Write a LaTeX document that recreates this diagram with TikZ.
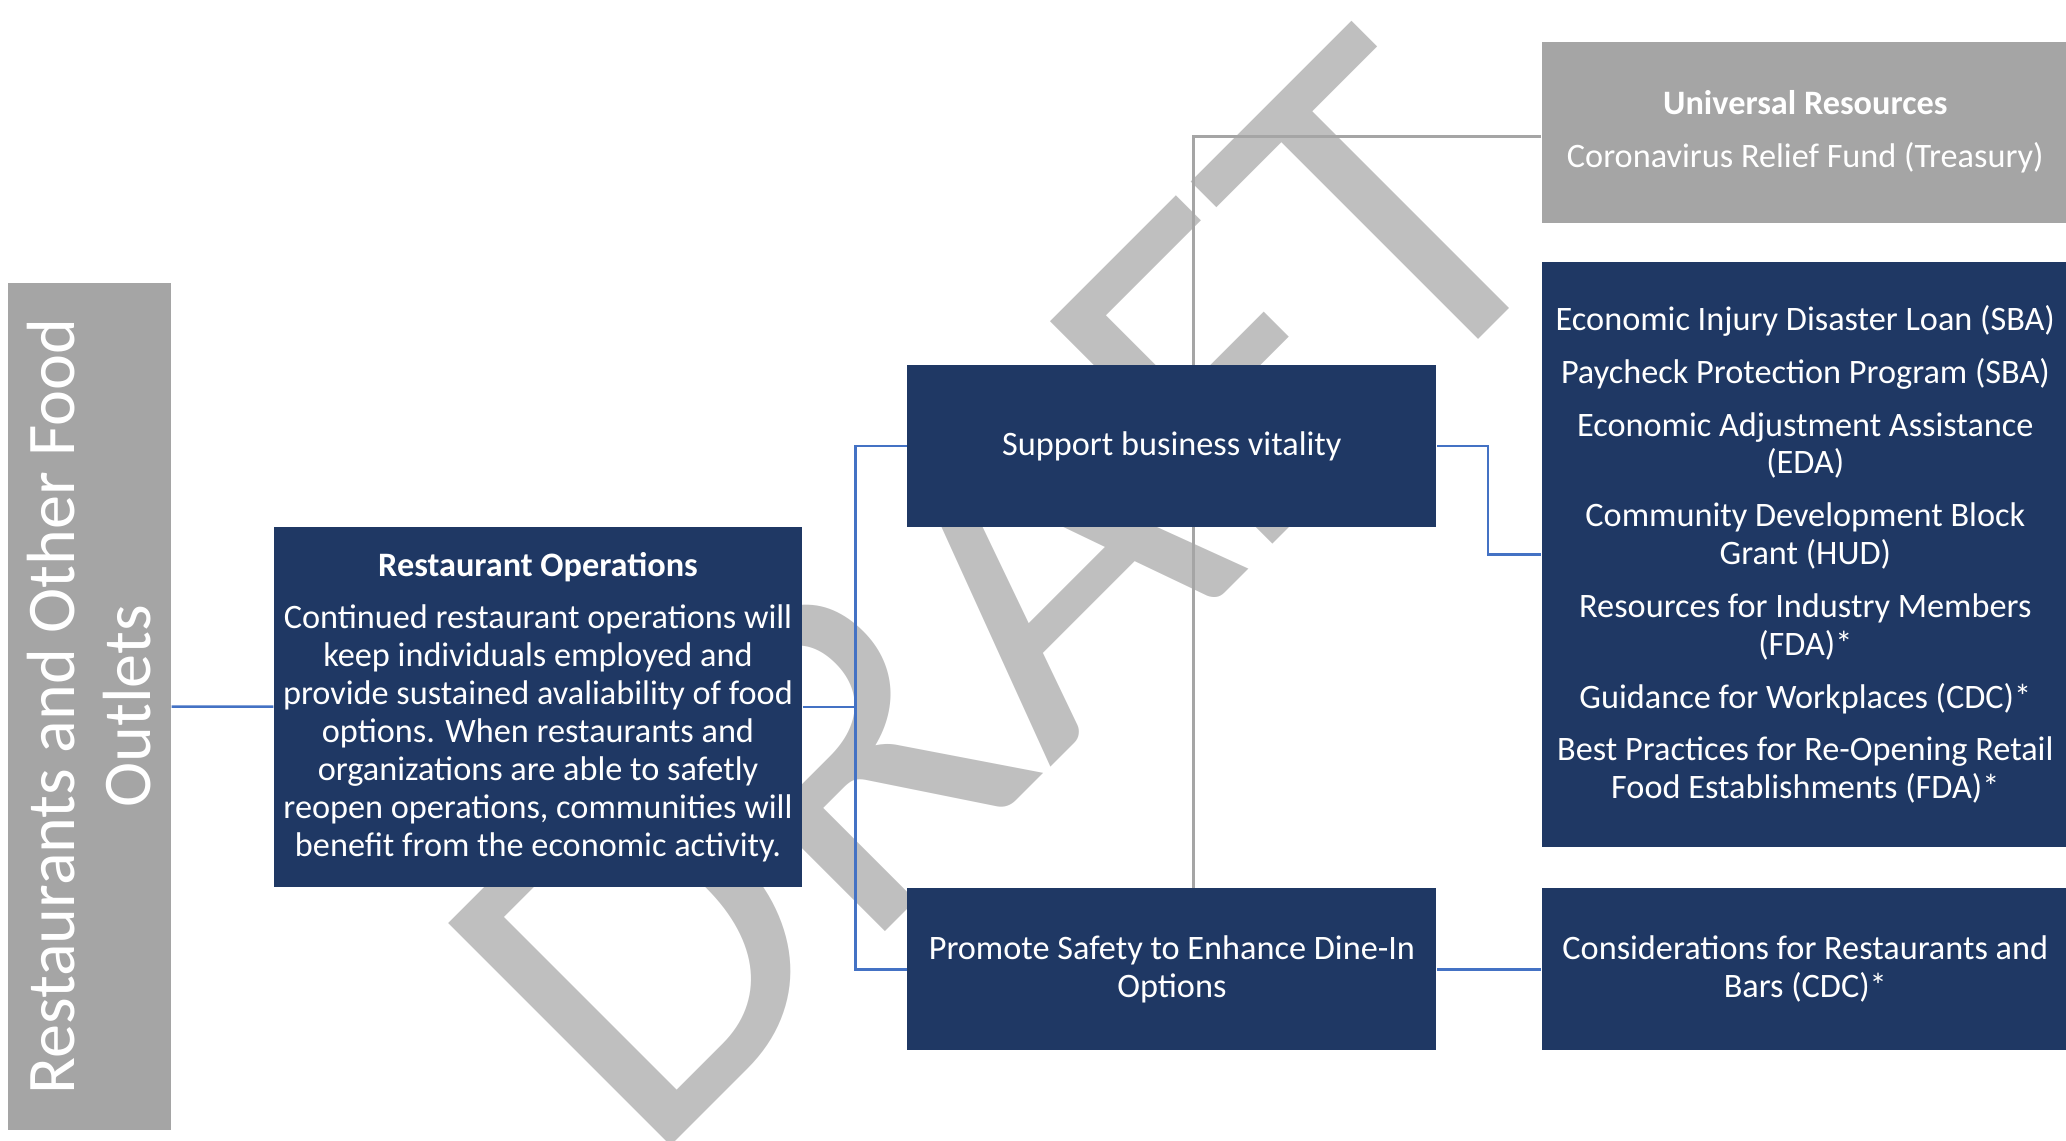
\documentclass[tikz,border=0pt]{standalone}
\usepackage{fontspec}
\setmainfont{Carlito}
\usepackage{tikz}
\usetikzlibrary{positioning, backgrounds}
\definecolor{navy}{HTML}{1F3864}
\definecolor{boxgray}{HTML}{A5A5A5}
\definecolor{linkblue}{HTML}{4472C4}
\definecolor{wmgray}{HTML}{BFBFBF}
\tikzset{
  sector/.style={
    rectangle, minimum width=8.47cm, minimum height=1.63cm, inner sep=0pt,
    align=center, fill=boxgray, text=white, font=\fontsize{19.4}{21.6}\selectfont
  },
  summary/.style={
    rectangle, minimum width=5.28cm, minimum height=3.6cm, inner sep=0pt,
    align=center, fill=navy, text=white, font=\fontsize{9.75}{10.8}\selectfont
  },
  goal/.style={
    rectangle, minimum width=5.29cm, minimum height=1.62cm, inner sep=0pt,
    align=center, fill=navy, text=white, font=\fontsize{9.75}{10.8}\selectfont
  },
  resource/.style={
    rectangle, minimum width=5.27cm, minimum height=1.62cm, inner sep=0pt,
    align=center, fill=navy, text=white, font=\fontsize{9.75}{10.8}\selectfont
  },
  universal/.style={
    resource, minimum height=1.81cm, fill=boxgray
  },
  watermark/.style={
    inner sep=0pt, text=wmgray, rotate=45, font=\fontsize{139.5}{139.5}\selectfont
  },
  link/.style={
    line width=0.7pt, color=linkblue
  },
  grayline/.style={
    line width=0.85pt, color=boxgray
  }
}

\begin{document}
\begin{tikzpicture}

\useasboundingbox (0,0) rectangle (20.66,-11.41);

% Secteur
\node (outlets) [sector, rotate=90] at (0.895,-7.065) {Restaurants and Other Food\\Outlets};

% Operations
\node (ops) [summary] at (5.38,-7.07) {
  \textbf{Restaurant Operations}\\[4.1pt]
  Continued restaurant operations will\\
  keep individuals employed and\\
  provide sustained avaliability of food\\
  options. When restaurants and\\
  organizations are able to safetly\\
  reopen operations, communities will\\
  benefit from the economic activity.
};

% Objectifs
\node (support) [goal, right=1.04cm of ops, yshift=2.61cm] {Support business vitality};
\node (promote) [goal, below=3.6cm of support] {Promote Safety to Enhance Dine-In\\Options};

% Ressources
\node (programs) [resource, minimum height=5.85cm, right=1.04cm of support, yshift=-1.085cm] {
  Economic Injury Disaster Loan (SBA)\\[4.2pt]
  Paycheck Protection Program (SBA)\\[4.2pt]
  Economic Adjustment Assistance\\(EDA)\\[4.2pt]
  Community Development Block\\Grant (HUD)\\[4.2pt]
  Resources for Industry Members\\(FDA)*\\[4.2pt]
  Guidance for Workplaces (CDC)*\\[4.2pt]
  Best Practices for Re-Opening Retail\\Food Establishments (FDA)*
};
\node (relief) [universal, above=0.38cm of programs] {\textbf{Universal Resources}\\[4.2pt]Coronavirus Relief Fund (Treasury)};
\node (consider) [resource, right=1.04cm of promote] {Considerations for Restaurants and\\Bars (CDC)*};

\begin{pgfonlayer}{background}
% Filigrane
\node (draft) [watermark] at (10.017,-5.931) {DRAFT};

% Liens
\draw [link] (outlets) -- (ops);
\draw [link] (ops.east) -- ++(0.53,0) coordinate (split);
\draw [link] (split) |- (support.west);
\draw [link] (split) |- (promote.west);
\draw [link] (support.east) -- ++(0.51,0) |- (programs.west);
\draw [link] (promote) -- (consider);
\draw [grayline] ([yshift=-0.04cm]relief.west) -| ([xshift=0.215cm]promote.north);
\end{pgfonlayer}

\end{tikzpicture}
\end{document}
